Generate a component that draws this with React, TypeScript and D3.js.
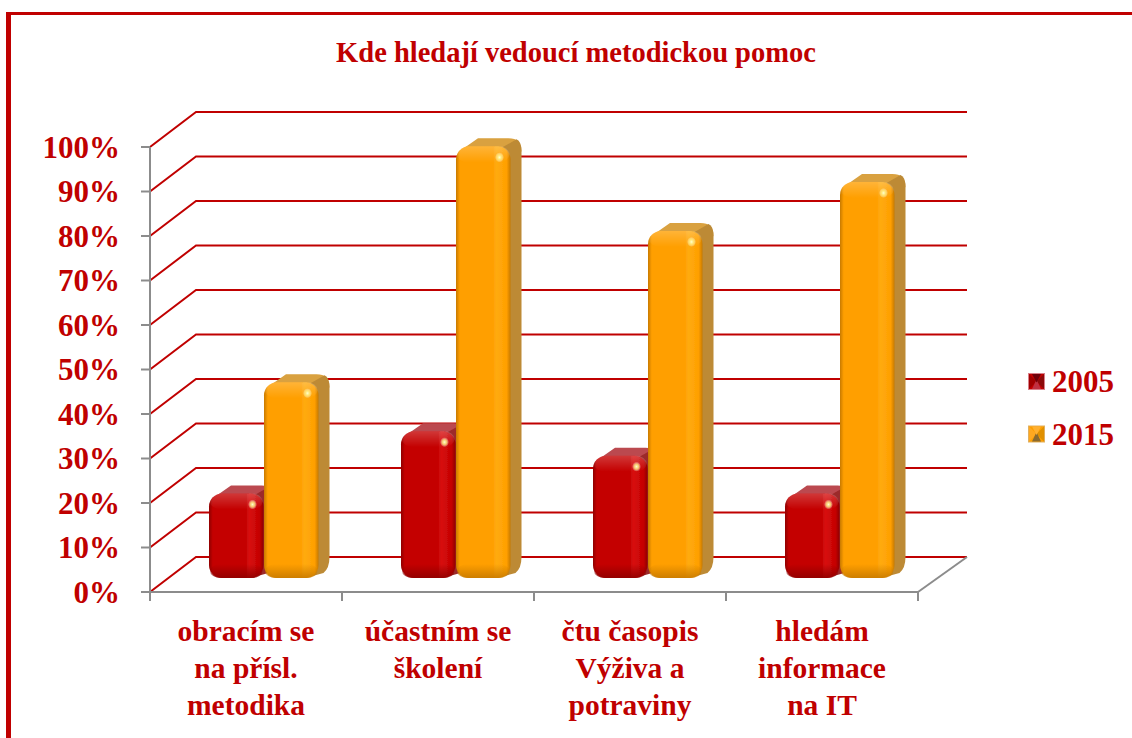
import React from "react";
import * as d3 from "d3";

const categories = [
  ["obracím se", "na přísl.", "metodika"],
  ["účastním se", "školení"],
  ["čtu časopis", "Výživa a", "potraviny"],
  ["hledám", "informace", "na IT"],
];
const years = ["2005", "2015"];
const values2005 = [19, 33, 27.5, 19];
const values2015 = [44, 97, 78, 89];
const yTicks = [0, 10, 20, 30, 40, 50, 60, 70, 80, 90, 100];
const RED = "#c00000";
const GREY = "#8c8c8c";
const FONT = "'Liberation Serif', 'Times New Roman', serif";

const palettes = [
  { base: "#c40000", light: "#d81010", top: "#bb4a4f", side: "#9c2a2a", edge: "#8f0000", id: "r" },
  { base: "#ff9f00", light: "#ffab10", top: "#d9a13f", side: "#bd8a35", edge: "#c87a00", id: "o" },
];

const x = d3.scaleLinear().domain([0, 4]).range([150, 918]);
const y = d3.scaleLinear().domain([0, 100]).range([592, 147]);
const depth = { dx: 46, dy: -35 };
// bar sits partly into the floor
const barOff = { dx: 0, dy: -14 };
const barDepth = { dx: 11, dy: -8 };
const barW = 54.5;
const barStart = d3.scaleLinear().domain([0, 1]).range([59, 114]);

function Bar({ cat, s, value }: { cat: number; s: number; value: number }) {
  const p = palettes[s];
  const x0 = x(cat) + barStart(s) + barOff.dx;
  const x1 = x0 + barW;
  const yb = y(0) + barOff.dy;
  const yt = y(value) + barOff.dy;
  const r = 13;
  const { dx, dy } = barDepth;
  const topPath = `M${x0 + 2},${yt + 6} L${x0 + dx + r - 2},${yt + dy} L${x1 + dx - r},${yt + dy} Q${x1 + dx},${yt + dy} ${x1 + dx},${yt + dy + r} L${x1 - 1},${yt + r} L${x1 - 6},${yt + 3} Z`;
  const sidePath = `M${x1 - 8},${yt + 1} L${x1 + dx - 5},${yt + dy + 1} Q${x1 + dx},${yt + dy + 3} ${x1 + dx},${yt + dy + r} L${x1 + dx},${yb + dy - r} Q${x1 + dx},${yb + dy - 2} ${x1 + dx - 6},${yb + dy + 3} L${x1 - 6},${yb - 2} Z`;
  const h = yb - yt;
  return (
    <g>
      <path d={topPath} fill={p.top} filter="url(#soft)" />
      <path d={sidePath} fill={p.side} filter="url(#soft)" />
      <rect x={x0} y={yt} width={barW} height={h} rx={r} fill={`url(#h${p.id})`} filter="url(#soft)" />
      <rect x={x0 + 1} y={yt} width={barW - 2} height={16} rx={11} fill="url(#topShine)" />
      <rect x={x0 + 1} y={yb - 14} width={barW - 2} height={14} rx={11} fill={`url(#bot${p.id})`} />
      <ellipse cx={x1 - 11} cy={yt + 11} rx={4.5} ry={5} fill="url(#spot)" />
    </g>
  );
}

function LegendMark({ s, yc }: { s: number; yc: number }) {
  const p = palettes[s];
  const x0 = 1028, x1 = 1045, y0 = yc - 8.5, y1 = yc + 8.5;
  const cx = (x0 + x1) / 2;
  const i = 4;
  return (
    <g>
      <rect x={x0} y={y0} width={x1 - x0} height={y1 - y0} fill={s === 0 ? "#d9808a" : "#e0b060"} />
      <rect x={x0 + 1} y={y0 + 1} width={x1 - x0 - 2} height={y1 - y0 - 2} fill={p.base} />
      <polygon points={`${x0 + 1},${y0 + 1} ${cx},${yc} ${x0 + 1},${y1 - 1}`} fill={s === 0 ? "#a00000" : "#ffa820"} />
      <polygon points={`${x1 - 1},${y0 + 1} ${cx},${yc} ${x1 - 1},${y1 - 1}`} fill={s === 0 ? "#8c0a0a" : "#e09000"} />
      <polygon points={`${x0 + i},${y1 - 1} ${cx},${yc - 2} ${x1 - i},${y1 - 1}`} fill={s === 0 ? "#c03040" : "#8a6a30"} />
      <polygon points={`${x0 + i},${y0 + 1} ${cx},${yc + 1} ${x1 - i},${y0 + 1}`} fill={s === 0 ? "#70000a" : "#ffb030"} />
    </g>
  );
}

export default function App() {
  const series = [values2005, values2015];
  return (
    <svg
      width={1132}
      height={738}
      viewBox="0 0 1132 738"
      style={{ position: "absolute", left: 0, top: 0, background: "#fff" }}
    >
      <defs>
        {palettes.map((p) => (
          <React.Fragment key={p.id}>
            <linearGradient id={`h${p.id}`} x1="0" x2="1" y1="0" y2="0">
              <stop offset="0" stopColor={p.edge} />
              <stop offset="0.07" stopColor={p.base} />
              <stop offset="0.68" stopColor={p.base} />
              <stop offset="0.74" stopColor={p.light} />
              <stop offset="0.93" stopColor={p.base} />
              <stop offset="1" stopColor={p.edge} />
            </linearGradient>
            <linearGradient id={`bot${p.id}`} x1="0" x2="0" y1="0" y2="1">
              <stop offset="0" stopColor={p.edge} stopOpacity="0" />
              <stop offset="1" stopColor={p.edge} stopOpacity="0.9" />
            </linearGradient>
          </React.Fragment>
        ))}
        <linearGradient id="topShine" x1="0" x2="0" y1="0" y2="1">
          <stop offset="0" stopColor="#ffffff" stopOpacity="0.22" />
          <stop offset="1" stopColor="#ffffff" stopOpacity="0" />
        </linearGradient>
        <radialGradient id="spot">
          <stop offset="0" stopColor="#ffffd0" stopOpacity="1" />
          <stop offset="0.5" stopColor="#fff080" stopOpacity="0.8" />
          <stop offset="1" stopColor="#ffffff" stopOpacity="0" />
        </radialGradient>
        <filter id="soft" x="-10%" y="-10%" width="120%" height="120%">
          <feGaussianBlur stdDeviation="0.7" />
        </filter>
      </defs>

      {/* frame */}
      <rect x={6} y={12} width={1126} height={3} fill={RED} />
      <rect x={6} y={12} width={5} height={726} fill={RED} />

      <text x={576} y={62} textAnchor="middle" fontFamily={FONT} fontWeight="bold" fontSize={28.5} fill={RED}>
        Kde hledají vedoucí metodickou pomoc
      </text>

      {/* gridlines */}
      {yTicks.map((t) => (
        <polyline
          key={t}
          points={`${x(0)},${y(t)} ${x(0) + depth.dx},${y(t) + depth.dy} ${x(4) + depth.dx + 3},${y(t) + depth.dy}`}
          fill="none"
          stroke={RED}
          strokeWidth={2}
        />
      ))}

      {/* axes */}
      <line x1={x(0)} x2={x(0)} y1={y(100)} y2={y(0) + 8} stroke={GREY} strokeWidth={2} />
      <line x1={x(0)} x2={x(4)} y1={y(0)} y2={y(0)} stroke={GREY} strokeWidth={2} />
      <line x1={x(4)} x2={x(4) + depth.dx + 3} y1={y(0)} y2={y(0) + depth.dy} stroke={GREY} strokeWidth={2} />
      {yTicks.map((t) => (
        <line key={t} x1={x(0) - 9} x2={x(0)} y1={y(t)} y2={y(t)} stroke={GREY} strokeWidth={2} />
      ))}
      {d3.range(0, 5).map((i) => (
        <line key={i} x1={x(i)} x2={x(i)} y1={y(0)} y2={y(0) + 9} stroke={GREY} strokeWidth={2} />
      ))}

      {/* bars */}
      {categories.map((_, c) =>
        series.map((vals, s) => <Bar key={`${c}-${s}`} cat={c} s={s} value={vals[c]} />)
      )}

      {/* y labels */}
      {yTicks.map((t) => (
        <text key={t} x={120} y={y(t) + 10.5} textAnchor="end" fontFamily={FONT} fontWeight="bold" fontSize={31} fill={RED}>
          {t}%
        </text>
      ))}

      {/* category labels */}
      {categories.map((lines, c) =>
        lines.map((line, i) => (
          <text
            key={line}
            x={x(c + 0.5) + 0}
            y={641 + i * 37}
            textAnchor="middle"
            fontFamily={FONT}
            fontWeight="bold"
            fontSize={29.5}
            fill={RED}
          >
            {line}
          </text>
        ))
      )}

      {/* legend */}
      {years.map((yr, s) => (
        <g key={yr}>
          <LegendMark s={s} yc={381.5 + s * 52.5} />
          <text x={1052} y={392 + s * 52.5} fontFamily={FONT} fontWeight="bold" fontSize={31} fill={RED}>
            {yr}
          </text>
        </g>
      ))}
    </svg>
  );
}
